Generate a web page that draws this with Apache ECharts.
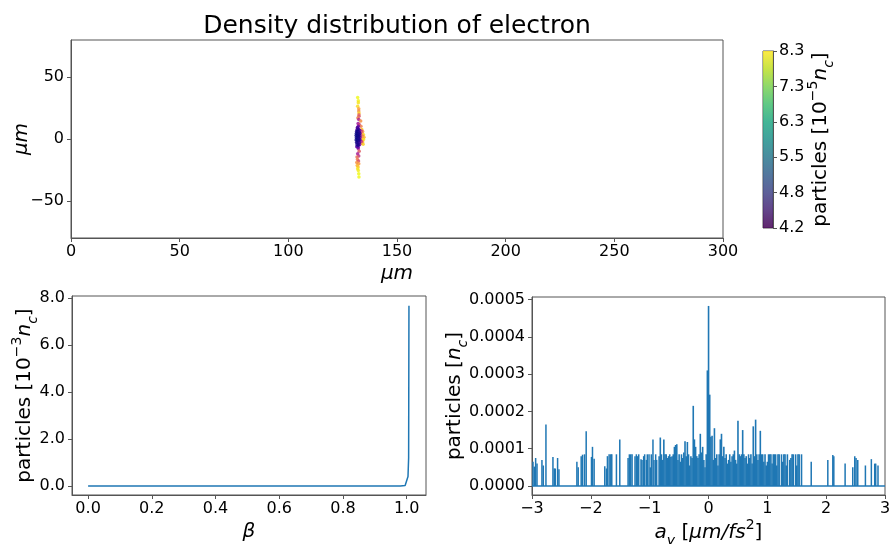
<!DOCTYPE html>
<html>
<head>
<meta charset="utf-8">
<script src="https://cdn.jsdelivr.net/npm/echarts@6/dist/echarts.min.js"></script>
<style>html,body{margin:0;padding:0;background:#fff;}#c{width:894px;height:544px;}</style>
</head>
<body>
<div id="c"></div>
<script>
// ---------- data ----------
const titleText = 'Density distribution of electron';
// top panel: electron positions (x, y in µm) and density value (10^-5 n_c)
const scatterX = [131.9,132.2,132.2,131.9,132.4,132.4,132.5,132.5,132.5,132.0,132.4,133.3,132.1,132.6,133.4,131.8,
  132.2,132.6,131.9,132.4,131.6,131.8,132.3,131.5,132.4,131.7,132.1,132.2,132.4,132.5,131.9,
  133.8,134.2,133.9,134.6,134.1,134.8,134.3,134.0,134.6,134.2,133.7,134.4,133.6,133.5,
  132.2,131.8,132.8,133.0,132.9,133.0,132.9,132.8,131.5,132.1,
  131.6,132.3,131.4,132.0,132.6,131.3,131.9,132.5,131.2,131.8,132.4,131.3,131.9,132.5,131.2,131.8,132.4,131.4,132.0,132.6,131.6,132.2];
const scatterY = [33.5,31.0,29.2,26.5,24.5,22.7,21.1,19.5,18.4,17.0,15.7,14.6,12.5,11.8,10.3,9.0,
  -7.8,-9.8,-11.9,-13.8,-14.6,-16.5,-17.8,-19.0,-20.0,-21.5,-22.7,-25.4,-28.0,-30.8,-24.0,
  7.6,6.0,4.5,3.5,2.5,1.5,0.5,-1.0,-0.5,-2.5,-3.5,-4.2,6.5,-1.8,
  10.3,9.0,7.0,4.5,2.6,1.2,-0.9,-4.6,-6.2,-6.6,
  7.5,7.8,6.0,6.2,5.5,4.5,4.2,3.8,2.8,2.5,2.0,1.0,0.6,0.3,-0.8,-1.2,-1.5,-2.8,-3.2,-3.0,-4.6,-5.0];
const scatterV = [8.3,8.2,8.1,8.0,7.4,7.2,7.9,6.8,6.5,7.0,5.8,7.2,5.6,6.2,7.0,6.0,
  5.8,6.6,5.7,6.0,6.8,7.0,6.4,7.2,7.3,7.6,7.8,8.2,8.3,8.3,8.1,
  7.8,7.2,7.0,8.0,6.8,7.6,7.3,6.9,8.1,7.5,6.5,7.9,6.3,6.0,
  5.0,4.6,5.2,5.0,4.8,5.2,4.9,5.4,4.7,5.0,
  4.6,4.5,4.3,4.2,4.4,4.2,4.2,4.3,4.2,4.2,4.2,4.2,4.2,4.3,4.2,4.2,4.3,4.3,4.2,4.5,4.4,4.3];
const colorbarTicks = ['4.2','4.8','5.5','6.3','7.3','8.3'];
// bottom-left: beta spectrum (10^-3 n_c)
const betaX = [0, 0.2, 0.4, 0.6, 0.8, 0.98, 0.995, 1.0, 1.004, 1.006, 1.007];
const betaY = [0, 0, 0, 0, 0, 0, 0.02, 0.1, 0.4, 1.2, 7.67];
// bottom-right: a_y spectrum (n_c), [a_y, particles]
const ayLeft = [[-2.983,6.5e-5],[-2.960,5.2e-5],[-2.938,7.5e-5],[-2.915,6.0e-5],[-2.831,7.0e-5],[-2.808,5.5e-5],[-2.763,1.65e-4],
  [-2.644,7.8e-5],[-2.621,4.7e-5],[-2.605,4.7e-5],[-2.565,7.5e-5],[-2.542,4.5e-5],
  [-2.237,6.5e-5],[-2.215,5.0e-5],[-2.164,8.0e-5],[-2.141,8.4e-5],[-2.107,8.5e-5],[-2.079,1.47e-4],
  [-1.989,7.8e-5],[-1.972,1.05e-4],[-1.944,7.3e-5],
  [-1.763,5.3e-5],[-1.734,4.7e-5],[-1.718,8.0e-5],[-1.689,8.5e-5],[-1.661,8.5e-5],[-1.644,8.5e-5],
  [-1.565,8.5e-5],[-1.508,1.25e-4],[-1.367,7.5e-5],[-1.345,8.5e-5],[-1.322,8.5e-5],[-1.299,8.5e-5],
  [-1.249,8.0e-5],[-1.226,8.5e-5],[-1.203,8.0e-5],[-1.186,8.5e-5],[-1.147,7.2e-5],[-1.130,7.0e-5],[-1.102,8.0e-5],[-1.085,8.5e-5],
  [-1.056,7.0e-5],[-1.040,8.5e-5],[-1.011,8.5e-5],[-0.989,5.0e-5],[-0.972,8.5e-5],[-0.944,1.25e-4],[-0.927,7.0e-5],[-0.898,8.5e-5],[-0.881,7.0e-5]];
const ayCore = [[-0.84,8.0e-5],[-0.82,1.3e-4],[-0.80,8.5e-5],[-0.78,7.0e-5],[-0.76,1.25e-4],[-0.74,8.5e-5],[-0.72,8.5e-5],[-0.70,7.5e-5],
  [-0.68,8.0e-5],[-0.66,8.5e-5],[-0.64,7.8e-5],[-0.62,8.0e-5],[-0.60,8.5e-5],[-0.58,1.05e-4],[-0.56,1.1e-4],[-0.54,1.12e-4],
  [-0.52,7.0e-5],[-0.50,8.5e-5],[-0.48,6.5e-5],[-0.46,8.5e-5],[-0.44,7.5e-5],[-0.42,9.0e-5],[-0.40,1.2e-4],[-0.38,8.0e-5],
  [-0.36,1.18e-4],[-0.34,8.5e-5],[-0.32,5.5e-5],[-0.30,8.0e-5],[-0.28,7.5e-5],[-0.26,2.15e-4],[-0.24,1.25e-4],[-0.22,1.05e-4],
  [-0.20,8.0e-5],[-0.18,7.5e-5],[-0.16,8.5e-5],[-0.14,1.4e-4],[-0.12,9.0e-5],[-0.10,1.05e-4],[-0.08,7.0e-5],[-0.06,5.0e-5],
  [-0.04,8.5e-5],[-0.02,3.1e-4],[0.00,4.83e-4],[0.02,2.45e-4],[0.04,1.32e-4],[0.06,1.35e-4],[0.08,7.0e-5],[0.10,1.55e-4],
  [0.12,7.5e-5],[0.14,8.5e-5],[0.16,5.5e-5],[0.18,8.5e-5],[0.20,1.25e-4],[0.22,1.4e-4],[0.24,8.0e-5],[0.26,1.05e-4],
  [0.28,7.5e-5],[0.30,8.5e-5],[0.32,6.0e-5],[0.34,7.0e-5],[0.36,8.5e-5],[0.38,6.5e-5],[0.40,8.0e-5],[0.42,8.5e-5],
  [0.44,9.5e-5],[0.46,7.0e-5],[0.48,6.0e-5],[0.50,1.75e-4],[0.52,8.5e-5],[0.54,8.0e-5],[0.56,8.5e-5],[0.58,1.5e-4],
  [0.60,8.5e-5],[0.62,7.5e-5],[0.64,8.0e-5],[0.66,6.0e-5],[0.68,8.5e-5],[0.70,7.5e-5],[0.72,8.5e-5],[0.74,6.0e-5],
  [0.76,1.6e-4],[0.78,8.0e-5],[0.80,1.78e-4],[0.82,8.5e-5],[0.84,7.0e-5],[0.86,8.5e-5],[0.88,1.48e-4],[0.90,8.5e-5],
  [0.92,8.5e-5],[0.94,6.5e-5],[0.96,8.5e-5],[0.98,5.5e-5],[1.00,6.5e-5],[1.02,8.5e-5],[1.04,8.5e-5],[1.06,8.5e-5],
  [1.08,6.0e-5],[1.10,8.5e-5],[1.12,8.5e-5],[1.14,8.5e-5],[1.16,5.5e-5],[1.18,8.5e-5],[1.20,8.5e-5],[1.24,8.5e-5],
  [1.26,6.5e-5],[1.28,8.5e-5],[1.30,8.5e-5],[1.32,5.5e-5],[1.34,8.5e-5],[1.38,7.0e-5],[1.40,7.5e-5],[1.42,8.5e-5],
  [1.44,8.5e-5],[1.48,8.5e-5],[1.50,5.5e-5],[1.52,8.5e-5],[1.54,8.5e-5],[1.58,8.5e-5]];
const ayRight = [[1.746,6.5e-5],[2.028,7.0e-5],[2.113,8.3e-5],[2.130,8.0e-5],[2.322,6.0e-5],
  [2.452,5.0e-5],[2.486,8.0e-5],[2.508,7.5e-5],[2.537,7.0e-5],[2.667,5.5e-5],
  [2.768,7.2e-5],[2.825,6.0e-5],[2.842,6.0e-5],[2.881,5.5e-5]];
const ayBaseline = [[-3,0],[3,0]];

// ---------- styling helpers ----------
const FONT = 'DejaVu Sans';
const AX = '#555';
const minus = v => String(v).replace('-', '\u2212');
const lbl = {fontFamily: FONT, fontSize: 16, color: '#000'};
const richBase = {
  n: {fontFamily: FONT, fontSize: 20, color: '#000', lineHeight: 30},
  it: {fontFamily: FONT, fontSize: 20, fontStyle: 'italic', color: '#000', lineHeight: 30},
  sup: {fontFamily: FONT, fontSize: 14, color: '#000', lineHeight: 14, verticalAlign: 'top'},
  sub: {fontFamily: FONT, fontSize: 14, fontStyle: 'italic', color: '#000', lineHeight: 14, verticalAlign: 'bottom'}
};
const nameStyle = {fontFamily: FONT, fontSize: 20, color: '#000', rich: richBase};
function axisCommon(extra) {
  return Object.assign({
    axisLine: {show: true, onZero: false, lineStyle: {color: AX, width: 1}},
    axisTick: {show: true, inside: false, length: 4, lineStyle: {color: AX}},
    splitLine: {show: false},
    nameTextStyle: nameStyle
  }, extra);
}
function gridAt(left, top, width, height) {
  return {left: left, top: top, width: width, height: height, show: true, borderColor: AX, borderWidth: 1,
    containLabel: false, outerBoundsMode: 'none'};
}

const viridis = ['#440154','#482475','#414487','#355f8d','#2a788e','#21918c','#22a884','#44bf70','#7ad151','#bddf26','#fde725'];
const plasma = ['#0d0887','#46039f','#7201a8','#9c179e','#bd3786','#d8576b','#ed7953','#fb9f3a','#fdca26','#f0f921'];

const chart = echarts.init(document.getElementById('c'), null, {renderer: 'canvas'});
const scatterData = scatterX.map((x, i) => [x, scatterY[i], scatterV[i]]);
const betaData = betaX.map((x, i) => [x, betaY[i]]);

chart.setOption({
  animation: false,
  backgroundColor: '#fff',
  graphic: [{type: 'text', x: 397, y: 14, style: {text: titleText, font: '25px "DejaVu Sans"', fill: '#000', textAlign: 'center'}}],
  grid: [
    gridAt(71, 40, 652, 198),
    gridAt(72, 296, 354, 199),
    gridAt(532, 297, 353, 198),
    gridAt(763, 51, 10, 177)
  ],
  visualMap: [{type: 'continuous', show: false, seriesIndex: 0, dimension: 2, min: 4.2, max: 8.3, inRange: {color: plasma}}],
  xAxis: [
    axisCommon({gridIndex: 0, type: 'value', min: 0, max: 300, interval: 50,
      axisLabel: Object.assign({margin: 6}, lbl),
      name: '{it|\u03bcm}', nameLocation: 'middle', nameGap: 21}),
    axisCommon({gridIndex: 1, type: 'value', min: -0.0505, max: 1.0605,
      axisLabel: Object.assign({margin: 6, customValues: [0, 0.2, 0.4, 0.6, 0.8, 1.0], formatter: v => v.toFixed(1)}, lbl),
      axisTick: {show: true, length: 4, lineStyle: {color: AX}, customValues: [0, 0.2, 0.4, 0.6, 0.8, 1.0]},
      name: '{it|\u03b2}', nameLocation: 'middle', nameGap: 22}),
    axisCommon({gridIndex: 2, type: 'value', min: -3, max: 3, interval: 1,
      axisLabel: Object.assign({margin: 6, formatter: v => minus(v)}, lbl),
      name: '{it|a}{sub|y}{n| [}{it|\u03bcm/fs}{sup|2}{n|]}', nameLocation: 'middle', nameGap: 22}),
    {gridIndex: 3, type: 'category', data: [''], show: false}
  ],
  yAxis: [
    axisCommon({gridIndex: 0, type: 'value', min: -80, max: 80, nameMoveOverlap: false,
      axisLabel: Object.assign({margin: 7, customValues: [-50, 0, 50], formatter: v => minus(v)}, lbl),
      axisTick: {show: true, length: 4, lineStyle: {color: AX}, customValues: [-50, 0, 50]},
      name: '{it|\u03bcm}', nameLocation: 'middle', nameGap: 34, nameRotate: 90}),
    axisCommon({gridIndex: 1, type: 'value', min: -0.385, max: 8.085, nameMoveOverlap: false,
      axisLabel: Object.assign({margin: 7, customValues: [0, 2, 4, 6, 8], formatter: v => v.toFixed(1)}, lbl),
      axisTick: {show: true, length: 4, lineStyle: {color: AX}, customValues: [0, 2, 4, 6, 8]},
      name: '{n|particles [10}{sup|\u22123}{it|n}{sub|c}{n|]}', nameLocation: 'middle', nameGap: 32, nameRotate: 90}),
    axisCommon({gridIndex: 2, type: 'value', min: -0.0000242, max: 0.000507, nameMoveOverlap: false,
      axisLabel: Object.assign({margin: 7, customValues: [0, 0.0001, 0.0002, 0.0003, 0.0004, 0.0005], formatter: v => v.toFixed(4)}, lbl),
      axisTick: {show: true, length: 4, lineStyle: {color: AX}, customValues: [0, 0.0001, 0.0002, 0.0003, 0.0004, 0.0005]},
      name: '{n|particles [}{it|n}{sub|c}{n|]}', nameLocation: 'middle', nameGap: 62, nameRotate: 90}),
    axisCommon({gridIndex: 3, type: 'value', position: 'right', min: 0, max: 5, interval: 1, nameMoveOverlap: false,
      axisLabel: Object.assign({margin: 6, formatter: v => colorbarTicks[Math.round(v)]}, lbl),
      name: '{n|particles [10}{sup|\u22125}{it|n}{sub|c}{n|]}', nameLocation: 'middle', nameGap: 33, nameRotate: 90})
  ],
  series: [
    {type: 'scatter', xAxisIndex: 0, yAxisIndex: 0, data: scatterData, symbol: 'circle', symbolSize: 3.5,
      itemStyle: {opacity: 0.85}},
    {type: 'line', xAxisIndex: 1, yAxisIndex: 1, data: betaData, showSymbol: false,
      lineStyle: {color: '#1f77b4', width: 1.5}},
    {type: 'line', xAxisIndex: 2, yAxisIndex: 2, data: ayBaseline, showSymbol: false,
      lineStyle: {color: '#1f77b4', width: 1.5}},
    {type: 'bar', xAxisIndex: 2, yAxisIndex: 2, data: ayLeft, barWidth: 1.5, itemStyle: {color: '#1f77b4'}},
    {type: 'bar', xAxisIndex: 2, yAxisIndex: 2, data: ayCore, barWidth: 1.6, barGap: '-100%', itemStyle: {color: '#1f77b4'}},
    {type: 'bar', xAxisIndex: 2, yAxisIndex: 2, data: ayRight, barWidth: 1.5, barGap: '-100%', itemStyle: {color: '#1f77b4'}},
    {type: 'bar', xAxisIndex: 3, yAxisIndex: 3, data: [5], barWidth: '100%', silent: true,
      itemStyle: {opacity: 0.85, color: {type: 'linear', x: 0, y: 1, x2: 0, y2: 0,
        colorStops: viridis.map((c, i) => ({offset: i / (viridis.length - 1), color: c}))}}}
  ]
});
</script>
</body>
</html>
